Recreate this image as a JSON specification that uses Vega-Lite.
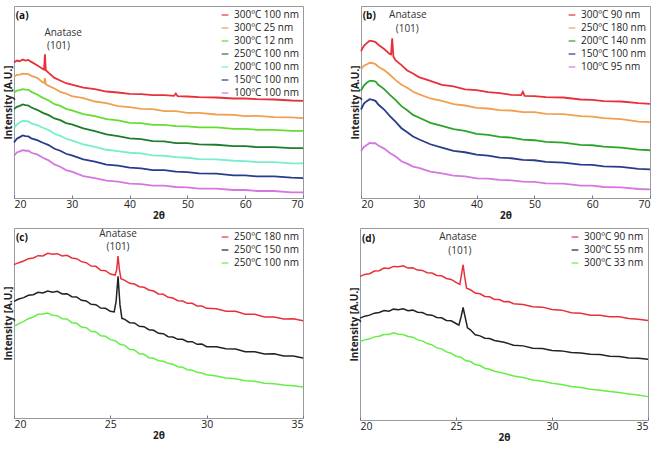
{
"$schema": "https://vega.github.io/schema/vega-lite/v6.json",
"padding": {"left": 2, "top": 5, "right": 0, "bottom": 0},
"background": "white",
"config": {
  "view": {"stroke": "#9a9a9a", "strokeWidth": 1},
  "font": "Open Sans",
  "axis": {"grid": false, "labelFont": "Open Sans", "titleFont": "Open Sans", "labelFontSize": 10.5, "titleFontSize": 10, "titleFontWeight": "bold", "labelColor": "#222", "titleColor": "#222", "tickColor": "#6a78a0", "tickSize": -3, "domain": false, "labelPadding": 4, "titlePadding": 1},
  "legend": {"orient": "top-right", "offset": 4, "padding": 0, "labelFont": "Open Sans", "labelFontSize": 10, "labelColor": "#222", "symbolType": "stroke", "symbolStrokeWidth": 1.5, "symbolSize": 45, "symbolOpacity": 0.8, "rowPadding": 3, "title": null},
  "text": {"font": "Open Sans", "fontSize": 10, "color": "#333"}
},
"datasets": {
"a": [
{"s":"300ºC 100 nm","x":20,"y":407},{"s":"300ºC 100 nm","x":20.5,"y":413},{"s":"300ºC 100 nm","x":21,"y":411},{"s":"300ºC 100 nm","x":21.5,"y":416},{"s":"300ºC 100 nm","x":22,"y":413},{"s":"300ºC 100 nm","x":22.5,"y":415},{"s":"300ºC 100 nm","x":23,"y":409},{"s":"300ºC 100 nm","x":24,"y":399},{"s":"300ºC 100 nm","x":25,"y":388},{"s":"300ºC 100 nm","x":25.2,"y":386},{"s":"300ºC 100 nm","x":25.35,"y":432},{"s":"300ºC 100 nm","x":25.5,"y":384},{"s":"300ºC 100 nm","x":26,"y":376},{"s":"300ºC 100 nm","x":27,"y":361},{"s":"300ºC 100 nm","x":28,"y":353},{"s":"300ºC 100 nm","x":29,"y":345},{"s":"300ºC 100 nm","x":30,"y":341},{"s":"300ºC 100 nm","x":32,"y":332},{"s":"300ºC 100 nm","x":34,"y":327},{"s":"300ºC 100 nm","x":36,"y":320},{"s":"300ºC 100 nm","x":38,"y":317},{"s":"300ºC 100 nm","x":40,"y":313},{"s":"300ºC 100 nm","x":42,"y":312},{"s":"300ºC 100 nm","x":44,"y":309},{"s":"300ºC 100 nm","x":46,"y":309},{"s":"300ºC 100 nm","x":47.7,"y":307},{"s":"300ºC 100 nm","x":48,"y":314},{"s":"300ºC 100 nm","x":48.3,"y":306},{"s":"300ºC 100 nm","x":50,"y":305},{"s":"300ºC 100 nm","x":52,"y":303},{"s":"300ºC 100 nm","x":55,"y":302},{"s":"300ºC 100 nm","x":58,"y":299},{"s":"300ºC 100 nm","x":60,"y":299},{"s":"300ºC 100 nm","x":62,"y":297},{"s":"300ºC 100 nm","x":65,"y":296},{"s":"300ºC 100 nm","x":68,"y":293},{"s":"300ºC 100 nm","x":70,"y":292},
{"s":"300ºC 25 nm","x":20,"y":364},{"s":"300ºC 25 nm","x":20.5,"y":370},{"s":"300ºC 25 nm","x":21,"y":371},{"s":"300ºC 25 nm","x":21.5,"y":374},{"s":"300ºC 25 nm","x":22,"y":373},{"s":"300ºC 25 nm","x":22.5,"y":372},{"s":"300ºC 25 nm","x":23,"y":367},{"s":"300ºC 25 nm","x":24,"y":361},{"s":"300ºC 25 nm","x":25,"y":347},{"s":"300ºC 25 nm","x":25.2,"y":346},{"s":"300ºC 25 nm","x":25.35,"y":360},{"s":"300ºC 25 nm","x":25.5,"y":342},{"s":"300ºC 25 nm","x":26,"y":337},{"s":"300ºC 25 nm","x":27,"y":329},{"s":"300ºC 25 nm","x":28,"y":319},{"s":"300ºC 25 nm","x":29,"y":314},{"s":"300ºC 25 nm","x":30,"y":306},{"s":"300ºC 25 nm","x":32,"y":300},{"s":"300ºC 25 nm","x":34,"y":290},{"s":"300ºC 25 nm","x":36,"y":285},{"s":"300ºC 25 nm","x":38,"y":276},{"s":"300ºC 25 nm","x":40,"y":273},{"s":"300ºC 25 nm","x":42,"y":268},{"s":"300ºC 25 nm","x":44,"y":267},{"s":"300ºC 25 nm","x":46,"y":261},{"s":"300ºC 25 nm","x":48,"y":261},{"s":"300ºC 25 nm","x":50,"y":256},{"s":"300ºC 25 nm","x":52,"y":256},{"s":"300ºC 25 nm","x":55,"y":251},{"s":"300ºC 25 nm","x":58,"y":250},{"s":"300ºC 25 nm","x":60,"y":246},{"s":"300ºC 25 nm","x":62,"y":247},{"s":"300ºC 25 nm","x":65,"y":243},{"s":"300ºC 25 nm","x":68,"y":242},{"s":"300ºC 25 nm","x":70,"y":240},
{"s":"300ºC 12 nm","x":20,"y":317},{"s":"300ºC 12 nm","x":20.5,"y":323},{"s":"300ºC 12 nm","x":21,"y":324},{"s":"300ºC 12 nm","x":21.5,"y":327},{"s":"300ºC 12 nm","x":22,"y":326},{"s":"300ºC 12 nm","x":22.5,"y":325},{"s":"300ºC 12 nm","x":23,"y":319},{"s":"300ºC 12 nm","x":24,"y":311},{"s":"300ºC 12 nm","x":25,"y":301},{"s":"300ºC 12 nm","x":26,"y":293},{"s":"300ºC 12 nm","x":27,"y":282},{"s":"300ºC 12 nm","x":28,"y":277},{"s":"300ºC 12 nm","x":29,"y":268},{"s":"300ºC 12 nm","x":30,"y":263},{"s":"300ºC 12 nm","x":32,"y":252},{"s":"300ºC 12 nm","x":34,"y":246},{"s":"300ºC 12 nm","x":36,"y":237},{"s":"300ºC 12 nm","x":38,"y":233},{"s":"300ºC 12 nm","x":40,"y":226},{"s":"300ºC 12 nm","x":42,"y":225},{"s":"300ºC 12 nm","x":44,"y":220},{"s":"300ºC 12 nm","x":46,"y":220},{"s":"300ºC 12 nm","x":48,"y":216},{"s":"300ºC 12 nm","x":50,"y":215},{"s":"300ºC 12 nm","x":52,"y":212},{"s":"300ºC 12 nm","x":55,"y":212},{"s":"300ºC 12 nm","x":58,"y":208},{"s":"300ºC 12 nm","x":60,"y":208},{"s":"300ºC 12 nm","x":62,"y":205},{"s":"300ºC 12 nm","x":65,"y":205},{"s":"300ºC 12 nm","x":68,"y":202},{"s":"300ºC 12 nm","x":70,"y":202},
{"s":"250ºC 100 nm","x":20,"y":267},{"s":"250ºC 100 nm","x":20.5,"y":274},{"s":"250ºC 100 nm","x":21,"y":277},{"s":"250ºC 100 nm","x":21.5,"y":281},{"s":"250ºC 100 nm","x":22,"y":279},{"s":"250ºC 100 nm","x":22.5,"y":278},{"s":"250ºC 100 nm","x":23,"y":272},{"s":"250ºC 100 nm","x":24,"y":265},{"s":"250ºC 100 nm","x":25,"y":256},{"s":"250ºC 100 nm","x":26,"y":249},{"s":"250ºC 100 nm","x":27,"y":239},{"s":"250ºC 100 nm","x":28,"y":234},{"s":"250ºC 100 nm","x":29,"y":225},{"s":"250ºC 100 nm","x":30,"y":221},{"s":"250ºC 100 nm","x":32,"y":209},{"s":"250ºC 100 nm","x":34,"y":201},{"s":"250ºC 100 nm","x":36,"y":191},{"s":"250ºC 100 nm","x":38,"y":186},{"s":"250ºC 100 nm","x":40,"y":179},{"s":"250ºC 100 nm","x":42,"y":177},{"s":"250ºC 100 nm","x":44,"y":171},{"s":"250ºC 100 nm","x":46,"y":170},{"s":"250ºC 100 nm","x":48,"y":165},{"s":"250ºC 100 nm","x":50,"y":165},{"s":"250ºC 100 nm","x":52,"y":161},{"s":"250ºC 100 nm","x":55,"y":160},{"s":"250ºC 100 nm","x":58,"y":156},{"s":"250ºC 100 nm","x":60,"y":156},{"s":"250ºC 100 nm","x":62,"y":153},{"s":"250ºC 100 nm","x":65,"y":153},{"s":"250ºC 100 nm","x":68,"y":150},{"s":"250ºC 100 nm","x":70,"y":150},
{"s":"200ºC 100 nm","x":20,"y":210},{"s":"200ºC 100 nm","x":20.5,"y":221},{"s":"200ºC 100 nm","x":21,"y":227},{"s":"200ºC 100 nm","x":21.5,"y":232},{"s":"200ºC 100 nm","x":22,"y":231},{"s":"200ºC 100 nm","x":22.5,"y":230},{"s":"200ºC 100 nm","x":23,"y":224},{"s":"200ºC 100 nm","x":24,"y":219},{"s":"200ºC 100 nm","x":25,"y":211},{"s":"200ºC 100 nm","x":26,"y":204},{"s":"200ºC 100 nm","x":27,"y":193},{"s":"200ºC 100 nm","x":28,"y":187},{"s":"200ºC 100 nm","x":29,"y":178},{"s":"200ºC 100 nm","x":30,"y":173},{"s":"200ºC 100 nm","x":32,"y":161},{"s":"200ºC 100 nm","x":34,"y":154},{"s":"200ºC 100 nm","x":36,"y":145},{"s":"200ºC 100 nm","x":38,"y":141},{"s":"200ºC 100 nm","x":40,"y":136},{"s":"200ºC 100 nm","x":42,"y":134},{"s":"200ºC 100 nm","x":44,"y":128},{"s":"200ºC 100 nm","x":46,"y":127},{"s":"200ºC 100 nm","x":48,"y":123},{"s":"200ºC 100 nm","x":50,"y":121},{"s":"200ºC 100 nm","x":52,"y":117},{"s":"200ºC 100 nm","x":55,"y":116},{"s":"200ºC 100 nm","x":58,"y":112},{"s":"200ºC 100 nm","x":60,"y":111},{"s":"200ºC 100 nm","x":62,"y":108},{"s":"200ºC 100 nm","x":65,"y":108},{"s":"200ºC 100 nm","x":68,"y":104},{"s":"200ºC 100 nm","x":70,"y":104},
{"s":"150ºC 100 nm","x":20,"y":167},{"s":"150ºC 100 nm","x":20.5,"y":178},{"s":"150ºC 100 nm","x":21,"y":183},{"s":"150ºC 100 nm","x":21.5,"y":188},{"s":"150ºC 100 nm","x":22,"y":186},{"s":"150ºC 100 nm","x":22.5,"y":185},{"s":"150ºC 100 nm","x":23,"y":179},{"s":"150ºC 100 nm","x":24,"y":174},{"s":"150ºC 100 nm","x":25,"y":166},{"s":"150ºC 100 nm","x":26,"y":159},{"s":"150ºC 100 nm","x":27,"y":148},{"s":"150ºC 100 nm","x":28,"y":142},{"s":"150ºC 100 nm","x":29,"y":133},{"s":"150ºC 100 nm","x":30,"y":128},{"s":"150ºC 100 nm","x":32,"y":116},{"s":"150ºC 100 nm","x":34,"y":109},{"s":"150ºC 100 nm","x":36,"y":100},{"s":"150ºC 100 nm","x":38,"y":97},{"s":"150ºC 100 nm","x":40,"y":91},{"s":"150ºC 100 nm","x":42,"y":89},{"s":"150ºC 100 nm","x":44,"y":84},{"s":"150ºC 100 nm","x":46,"y":84},{"s":"150ºC 100 nm","x":48,"y":79},{"s":"150ºC 100 nm","x":50,"y":78},{"s":"150ºC 100 nm","x":52,"y":74},{"s":"150ºC 100 nm","x":55,"y":73},{"s":"150ºC 100 nm","x":58,"y":68},{"s":"150ºC 100 nm","x":60,"y":68},{"s":"150ºC 100 nm","x":62,"y":65},{"s":"150ºC 100 nm","x":65,"y":65},{"s":"150ºC 100 nm","x":68,"y":61},{"s":"150ºC 100 nm","x":70,"y":60},
{"s":"100ºC 100 nm","x":20,"y":127},{"s":"100ºC 100 nm","x":20.5,"y":137},{"s":"100ºC 100 nm","x":21,"y":140},{"s":"100ºC 100 nm","x":21.5,"y":144},{"s":"100ºC 100 nm","x":22,"y":142},{"s":"100ºC 100 nm","x":22.5,"y":142},{"s":"100ºC 100 nm","x":23,"y":136},{"s":"100ºC 100 nm","x":24,"y":131},{"s":"100ºC 100 nm","x":25,"y":121},{"s":"100ºC 100 nm","x":26,"y":113},{"s":"100ºC 100 nm","x":27,"y":101},{"s":"100ºC 100 nm","x":28,"y":94},{"s":"100ºC 100 nm","x":29,"y":84},{"s":"100ºC 100 nm","x":30,"y":79},{"s":"100ºC 100 nm","x":32,"y":66},{"s":"100ºC 100 nm","x":34,"y":60},{"s":"100ºC 100 nm","x":36,"y":52},{"s":"100ºC 100 nm","x":38,"y":49},{"s":"100ºC 100 nm","x":40,"y":43},{"s":"100ºC 100 nm","x":42,"y":42},{"s":"100ºC 100 nm","x":44,"y":37},{"s":"100ºC 100 nm","x":46,"y":37},{"s":"100ºC 100 nm","x":48,"y":33},{"s":"100ºC 100 nm","x":50,"y":32},{"s":"100ºC 100 nm","x":52,"y":28},{"s":"100ºC 100 nm","x":55,"y":28},{"s":"100ºC 100 nm","x":58,"y":24},{"s":"100ºC 100 nm","x":60,"y":24},{"s":"100ºC 100 nm","x":62,"y":21},{"s":"100ºC 100 nm","x":65,"y":21},{"s":"100ºC 100 nm","x":68,"y":17},{"s":"100ºC 100 nm","x":70,"y":17}
],
"b": [
{"s":"300ºC 90 nm","x":20,"y":440},{"s":"300ºC 90 nm","x":20.5,"y":456},{"s":"300ºC 90 nm","x":21,"y":464},{"s":"300ºC 90 nm","x":21.5,"y":471},{"s":"300ºC 90 nm","x":22,"y":470},{"s":"300ºC 90 nm","x":22.5,"y":467},{"s":"300ºC 90 nm","x":23,"y":459},{"s":"300ºC 90 nm","x":24,"y":446},{"s":"300ºC 90 nm","x":25,"y":431},{"s":"300ºC 90 nm","x":25.2,"y":430},{"s":"300ºC 90 nm","x":25.4,"y":478},{"s":"300ºC 90 nm","x":25.6,"y":424},{"s":"300ºC 90 nm","x":26,"y":412},{"s":"300ºC 90 nm","x":27,"y":398},{"s":"300ºC 90 nm","x":28,"y":382},{"s":"300ºC 90 nm","x":29,"y":373},{"s":"300ºC 90 nm","x":30,"y":362},{"s":"300ºC 90 nm","x":32,"y":351},{"s":"300ºC 90 nm","x":34,"y":339},{"s":"300ºC 90 nm","x":36,"y":334},{"s":"300ºC 90 nm","x":38,"y":325},{"s":"300ºC 90 nm","x":40,"y":323},{"s":"300ºC 90 nm","x":42,"y":317},{"s":"300ºC 90 nm","x":44,"y":314},{"s":"300ºC 90 nm","x":46,"y":309},{"s":"300ºC 90 nm","x":47.7,"y":308},{"s":"300ºC 90 nm","x":48,"y":318},{"s":"300ºC 90 nm","x":48.3,"y":306},{"s":"300ºC 90 nm","x":50,"y":305},{"s":"300ºC 90 nm","x":52,"y":302},{"s":"300ºC 90 nm","x":55,"y":301},{"s":"300ºC 90 nm","x":58,"y":295},{"s":"300ºC 90 nm","x":60,"y":294},{"s":"300ºC 90 nm","x":62,"y":290},{"s":"300ºC 90 nm","x":65,"y":289},{"s":"300ºC 90 nm","x":68,"y":284},{"s":"300ºC 90 nm","x":70,"y":282},
{"s":"250ºC 180 nm","x":20,"y":385},{"s":"250ºC 180 nm","x":20.5,"y":396},{"s":"250ºC 180 nm","x":21,"y":400},{"s":"250ºC 180 nm","x":21.5,"y":405},{"s":"250ºC 180 nm","x":22,"y":404},{"s":"250ºC 180 nm","x":22.5,"y":401},{"s":"250ºC 180 nm","x":23,"y":393},{"s":"250ºC 180 nm","x":24,"y":383},{"s":"250ºC 180 nm","x":25,"y":369},{"s":"250ºC 180 nm","x":26,"y":353},{"s":"250ºC 180 nm","x":27,"y":339},{"s":"250ºC 180 nm","x":28,"y":330},{"s":"250ºC 180 nm","x":29,"y":318},{"s":"250ºC 180 nm","x":30,"y":311},{"s":"250ºC 180 nm","x":32,"y":298},{"s":"250ºC 180 nm","x":34,"y":291},{"s":"250ºC 180 nm","x":36,"y":281},{"s":"250ºC 180 nm","x":38,"y":277},{"s":"250ºC 180 nm","x":40,"y":270},{"s":"250ºC 180 nm","x":42,"y":268},{"s":"250ºC 180 nm","x":44,"y":263},{"s":"250ºC 180 nm","x":46,"y":262},{"s":"250ºC 180 nm","x":48,"y":257},{"s":"250ºC 180 nm","x":50,"y":257},{"s":"250ºC 180 nm","x":52,"y":252},{"s":"250ºC 180 nm","x":55,"y":251},{"s":"250ºC 180 nm","x":58,"y":245},{"s":"250ºC 180 nm","x":60,"y":244},{"s":"250ºC 180 nm","x":62,"y":239},{"s":"250ºC 180 nm","x":65,"y":236},{"s":"250ºC 180 nm","x":68,"y":229},{"s":"250ºC 180 nm","x":70,"y":227},
{"s":"200ºC 140 nm","x":20,"y":322},{"s":"200ºC 140 nm","x":20.5,"y":337},{"s":"200ºC 140 nm","x":21,"y":345},{"s":"200ºC 140 nm","x":21.5,"y":351},{"s":"200ºC 140 nm","x":22,"y":351},{"s":"200ºC 140 nm","x":22.5,"y":349},{"s":"200ºC 140 nm","x":23,"y":339},{"s":"200ºC 140 nm","x":24,"y":326},{"s":"200ºC 140 nm","x":25,"y":309},{"s":"200ºC 140 nm","x":26,"y":293},{"s":"200ºC 140 nm","x":27,"y":275},{"s":"200ºC 140 nm","x":28,"y":263},{"s":"200ºC 140 nm","x":29,"y":249},{"s":"200ºC 140 nm","x":30,"y":241},{"s":"200ºC 140 nm","x":32,"y":225},{"s":"200ºC 140 nm","x":34,"y":216},{"s":"200ºC 140 nm","x":36,"y":206},{"s":"200ºC 140 nm","x":38,"y":201},{"s":"200ºC 140 nm","x":40,"y":192},{"s":"200ºC 140 nm","x":42,"y":189},{"s":"200ºC 140 nm","x":44,"y":183},{"s":"200ºC 140 nm","x":46,"y":181},{"s":"200ºC 140 nm","x":48,"y":175},{"s":"200ºC 140 nm","x":50,"y":173},{"s":"200ºC 140 nm","x":52,"y":168},{"s":"200ºC 140 nm","x":55,"y":166},{"s":"200ºC 140 nm","x":58,"y":159},{"s":"200ºC 140 nm","x":60,"y":158},{"s":"200ºC 140 nm","x":62,"y":154},{"s":"200ºC 140 nm","x":65,"y":151},{"s":"200ºC 140 nm","x":68,"y":145},{"s":"200ºC 140 nm","x":70,"y":143},
{"s":"150ºC 100 nm","x":20,"y":265},{"s":"150ºC 100 nm","x":20.5,"y":283},{"s":"150ºC 100 nm","x":21,"y":290},{"s":"150ºC 100 nm","x":21.5,"y":296},{"s":"150ºC 100 nm","x":22,"y":294},{"s":"150ºC 100 nm","x":22.5,"y":291},{"s":"150ºC 100 nm","x":23,"y":280},{"s":"150ºC 100 nm","x":24,"y":265},{"s":"150ºC 100 nm","x":25,"y":245},{"s":"150ºC 100 nm","x":26,"y":228},{"s":"150ºC 100 nm","x":27,"y":209},{"s":"150ºC 100 nm","x":28,"y":197},{"s":"150ºC 100 nm","x":29,"y":184},{"s":"150ºC 100 nm","x":30,"y":176},{"s":"150ºC 100 nm","x":32,"y":161},{"s":"150ºC 100 nm","x":34,"y":151},{"s":"150ºC 100 nm","x":36,"y":141},{"s":"150ºC 100 nm","x":38,"y":137},{"s":"150ºC 100 nm","x":40,"y":130},{"s":"150ºC 100 nm","x":42,"y":127},{"s":"150ºC 100 nm","x":44,"y":121},{"s":"150ºC 100 nm","x":46,"y":119},{"s":"150ºC 100 nm","x":48,"y":114},{"s":"150ºC 100 nm","x":50,"y":113},{"s":"150ºC 100 nm","x":52,"y":108},{"s":"150ºC 100 nm","x":55,"y":106},{"s":"150ºC 100 nm","x":58,"y":100},{"s":"150ºC 100 nm","x":60,"y":99},{"s":"150ºC 100 nm","x":62,"y":95},{"s":"150ºC 100 nm","x":65,"y":93},{"s":"150ºC 100 nm","x":68,"y":87},{"s":"150ºC 100 nm","x":70,"y":86},
{"s":"100ºC 95 nm","x":20,"y":140},{"s":"100ºC 95 nm","x":20.5,"y":153},{"s":"100ºC 95 nm","x":21,"y":159},{"s":"100ºC 95 nm","x":21.5,"y":165},{"s":"100ºC 95 nm","x":22,"y":164},{"s":"100ºC 95 nm","x":22.5,"y":164},{"s":"100ºC 95 nm","x":23,"y":157},{"s":"100ºC 95 nm","x":24,"y":148},{"s":"100ºC 95 nm","x":25,"y":135},{"s":"100ºC 95 nm","x":26,"y":124},{"s":"100ºC 95 nm","x":27,"y":110},{"s":"100ºC 95 nm","x":28,"y":103},{"s":"100ºC 95 nm","x":29,"y":94},{"s":"100ºC 95 nm","x":30,"y":90},{"s":"100ºC 95 nm","x":32,"y":79},{"s":"100ºC 95 nm","x":34,"y":74},{"s":"100ºC 95 nm","x":36,"y":67},{"s":"100ºC 95 nm","x":38,"y":65},{"s":"100ºC 95 nm","x":40,"y":59},{"s":"100ºC 95 nm","x":42,"y":58},{"s":"100ºC 95 nm","x":44,"y":54},{"s":"100ºC 95 nm","x":46,"y":53},{"s":"100ºC 95 nm","x":48,"y":49},{"s":"100ºC 95 nm","x":50,"y":48},{"s":"100ºC 95 nm","x":52,"y":44},{"s":"100ºC 95 nm","x":55,"y":43},{"s":"100ºC 95 nm","x":58,"y":37},{"s":"100ºC 95 nm","x":60,"y":37},{"s":"100ºC 95 nm","x":62,"y":33},{"s":"100ºC 95 nm","x":65,"y":32},{"s":"100ºC 95 nm","x":68,"y":27},{"s":"100ºC 95 nm","x":70,"y":26}
],
"c": [
{"s":"250ºC 180 nm","x":20,"y":460},{"s":"250ºC 180 nm","x":20.25,"y":466},{"s":"250ºC 180 nm","x":20.5,"y":471},{"s":"250ºC 180 nm","x":20.75,"y":478},{"s":"250ºC 180 nm","x":21,"y":480},{"s":"250ºC 180 nm","x":21.25,"y":487},{"s":"250ºC 180 nm","x":21.5,"y":486},{"s":"250ºC 180 nm","x":21.75,"y":494},{"s":"250ºC 180 nm","x":22,"y":491},{"s":"250ºC 180 nm","x":22.25,"y":493},{"s":"250ºC 180 nm","x":22.5,"y":486},{"s":"250ºC 180 nm","x":22.75,"y":488},{"s":"250ºC 180 nm","x":23,"y":480},{"s":"250ºC 180 nm","x":23.25,"y":478},{"s":"250ºC 180 nm","x":23.5,"y":469},{"s":"250ºC 180 nm","x":23.75,"y":466},{"s":"250ºC 180 nm","x":24,"y":456},{"s":"250ºC 180 nm","x":24.25,"y":455},{"s":"250ºC 180 nm","x":24.5,"y":443},{"s":"250ºC 180 nm","x":24.75,"y":442},{"s":"250ºC 180 nm","x":25,"y":432},{"s":"250ºC 180 nm","x":25.25,"y":429},{"s":"250ºC 180 nm","x":25.33,"y":445},{"s":"250ºC 180 nm","x":25.4,"y":486},{"s":"250ºC 180 nm","x":25.47,"y":446},{"s":"250ºC 180 nm","x":25.55,"y":418},{"s":"250ºC 180 nm","x":25.75,"y":413},{"s":"250ºC 180 nm","x":26,"y":404},{"s":"250ºC 180 nm","x":26.25,"y":402},{"s":"250ºC 180 nm","x":26.5,"y":394},{"s":"250ºC 180 nm","x":26.75,"y":392},{"s":"250ºC 180 nm","x":27,"y":384},{"s":"250ºC 180 nm","x":27.25,"y":381},{"s":"250ºC 180 nm","x":27.5,"y":372},{"s":"250ºC 180 nm","x":27.75,"y":371},{"s":"250ºC 180 nm","x":28,"y":362},{"s":"250ºC 180 nm","x":28.25,"y":360},{"s":"250ºC 180 nm","x":28.5,"y":352},{"s":"250ºC 180 nm","x":28.75,"y":351},{"s":"250ºC 180 nm","x":29,"y":344},{"s":"250ºC 180 nm","x":29.25,"y":344},{"s":"250ºC 180 nm","x":29.5,"y":336},{"s":"250ºC 180 nm","x":29.75,"y":336},{"s":"250ºC 180 nm","x":30,"y":329},{"s":"250ºC 180 nm","x":30.5,"y":328},{"s":"250ºC 180 nm","x":31,"y":320},{"s":"250ºC 180 nm","x":31.5,"y":320},{"s":"250ºC 180 nm","x":32,"y":311},{"s":"250ºC 180 nm","x":32.5,"y":311},{"s":"250ºC 180 nm","x":33,"y":303},{"s":"250ºC 180 nm","x":33.5,"y":303},{"s":"250ºC 180 nm","x":34,"y":297},{"s":"250ºC 180 nm","x":34.5,"y":298},{"s":"250ºC 180 nm","x":35,"y":292},
{"s":"250ºC 150 nm","x":20,"y":350},{"s":"250ºC 150 nm","x":20.25,"y":357},{"s":"250ºC 150 nm","x":20.5,"y":361},{"s":"250ºC 150 nm","x":20.75,"y":368},{"s":"250ºC 150 nm","x":21,"y":370},{"s":"250ºC 150 nm","x":21.25,"y":377},{"s":"250ºC 150 nm","x":21.5,"y":375},{"s":"250ºC 150 nm","x":21.75,"y":381},{"s":"250ºC 150 nm","x":22,"y":377},{"s":"250ºC 150 nm","x":22.25,"y":380},{"s":"250ºC 150 nm","x":22.5,"y":372},{"s":"250ºC 150 nm","x":22.75,"y":373},{"s":"250ºC 150 nm","x":23,"y":364},{"s":"250ºC 150 nm","x":23.25,"y":363},{"s":"250ºC 150 nm","x":23.5,"y":353},{"s":"250ºC 150 nm","x":23.75,"y":351},{"s":"250ºC 150 nm","x":24,"y":341},{"s":"250ºC 150 nm","x":24.25,"y":340},{"s":"250ºC 150 nm","x":24.5,"y":330},{"s":"250ºC 150 nm","x":24.75,"y":329},{"s":"250ºC 150 nm","x":25,"y":320},{"s":"250ºC 150 nm","x":25.2,"y":318},{"s":"250ºC 150 nm","x":25.3,"y":350},{"s":"250ºC 150 nm","x":25.4,"y":425},{"s":"250ºC 150 nm","x":25.5,"y":340},{"s":"250ºC 150 nm","x":25.6,"y":299},{"s":"250ºC 150 nm","x":25.75,"y":296},{"s":"250ºC 150 nm","x":26,"y":286},{"s":"250ºC 150 nm","x":26.25,"y":285},{"s":"250ºC 150 nm","x":26.5,"y":275},{"s":"250ºC 150 nm","x":26.75,"y":274},{"s":"250ºC 150 nm","x":27,"y":265},{"s":"250ºC 150 nm","x":27.25,"y":263},{"s":"250ºC 150 nm","x":27.5,"y":254},{"s":"250ºC 150 nm","x":27.75,"y":253},{"s":"250ºC 150 nm","x":28,"y":244},{"s":"250ºC 150 nm","x":28.25,"y":243},{"s":"250ºC 150 nm","x":28.5,"y":236},{"s":"250ºC 150 nm","x":28.75,"y":236},{"s":"250ºC 150 nm","x":29,"y":229},{"s":"250ºC 150 nm","x":29.25,"y":229},{"s":"250ºC 150 nm","x":29.5,"y":221},{"s":"250ºC 150 nm","x":29.75,"y":222},{"s":"250ºC 150 nm","x":30,"y":214},{"s":"250ºC 150 nm","x":30.5,"y":214},{"s":"250ºC 150 nm","x":31,"y":208},{"s":"250ºC 150 nm","x":31.5,"y":207},{"s":"250ºC 150 nm","x":32,"y":199},{"s":"250ºC 150 nm","x":32.5,"y":199},{"s":"250ºC 150 nm","x":33,"y":192},{"s":"250ºC 150 nm","x":33.5,"y":193},{"s":"250ºC 150 nm","x":34,"y":186},{"s":"250ºC 150 nm","x":34.5,"y":186},{"s":"250ºC 150 nm","x":35,"y":180},
{"s":"250ºC 100 nm","x":20,"y":275},{"s":"250ºC 100 nm","x":20.25,"y":283},{"s":"250ºC 100 nm","x":20.5,"y":290},{"s":"250ºC 100 nm","x":20.75,"y":298},{"s":"250ºC 100 nm","x":21,"y":303},{"s":"250ºC 100 nm","x":21.25,"y":311},{"s":"250ºC 100 nm","x":21.5,"y":312},{"s":"250ºC 100 nm","x":21.75,"y":315},{"s":"250ºC 100 nm","x":22,"y":308},{"s":"250ºC 100 nm","x":22.25,"y":307},{"s":"250ºC 100 nm","x":22.5,"y":298},{"s":"250ºC 100 nm","x":22.75,"y":297},{"s":"250ºC 100 nm","x":23,"y":286},{"s":"250ºC 100 nm","x":23.25,"y":284},{"s":"250ºC 100 nm","x":23.5,"y":273},{"s":"250ºC 100 nm","x":23.75,"y":271},{"s":"250ºC 100 nm","x":24,"y":260},{"s":"250ºC 100 nm","x":24.25,"y":258},{"s":"250ºC 100 nm","x":24.5,"y":247},{"s":"250ºC 100 nm","x":24.75,"y":245},{"s":"250ºC 100 nm","x":25,"y":235},{"s":"250ºC 100 nm","x":25.25,"y":232},{"s":"250ºC 100 nm","x":25.5,"y":221},{"s":"250ºC 100 nm","x":25.75,"y":218},{"s":"250ºC 100 nm","x":26,"y":206},{"s":"250ºC 100 nm","x":26.25,"y":204},{"s":"250ºC 100 nm","x":26.5,"y":193},{"s":"250ºC 100 nm","x":26.75,"y":191},{"s":"250ºC 100 nm","x":27,"y":181},{"s":"250ºC 100 nm","x":27.25,"y":179},{"s":"250ºC 100 nm","x":27.5,"y":172},{"s":"250ºC 100 nm","x":27.75,"y":170},{"s":"250ºC 100 nm","x":28,"y":164},{"s":"250ºC 100 nm","x":28.25,"y":161},{"s":"250ºC 100 nm","x":28.5,"y":154},{"s":"250ºC 100 nm","x":28.75,"y":152},{"s":"250ºC 100 nm","x":29,"y":145},{"s":"250ºC 100 nm","x":29.25,"y":143},{"s":"250ºC 100 nm","x":29.5,"y":137},{"s":"250ºC 100 nm","x":29.75,"y":135},{"s":"250ºC 100 nm","x":30,"y":130},{"s":"250ºC 100 nm","x":30.5,"y":126},{"s":"250ºC 100 nm","x":31,"y":120},{"s":"250ºC 100 nm","x":31.5,"y":118},{"s":"250ºC 100 nm","x":32,"y":112},{"s":"250ºC 100 nm","x":32.5,"y":110},{"s":"250ºC 100 nm","x":33,"y":104},{"s":"250ºC 100 nm","x":33.5,"y":103},{"s":"250ºC 100 nm","x":34,"y":99},{"s":"250ºC 100 nm","x":34.5,"y":97},{"s":"250ºC 100 nm","x":35,"y":93}
],
"d": [
{"s":"300ºC 90 nm","x":20,"y":430},{"s":"300ºC 90 nm","x":20.25,"y":436},{"s":"300ºC 90 nm","x":20.5,"y":438},{"s":"300ºC 90 nm","x":20.75,"y":446},{"s":"300ºC 90 nm","x":21,"y":447},{"s":"300ºC 90 nm","x":21.25,"y":455},{"s":"300ºC 90 nm","x":21.5,"y":454},{"s":"300ºC 90 nm","x":21.75,"y":460},{"s":"300ºC 90 nm","x":22,"y":459},{"s":"300ºC 90 nm","x":22.25,"y":462},{"s":"300ºC 90 nm","x":22.5,"y":455},{"s":"300ºC 90 nm","x":22.75,"y":456},{"s":"300ºC 90 nm","x":23,"y":449},{"s":"300ºC 90 nm","x":23.25,"y":448},{"s":"300ºC 90 nm","x":23.5,"y":441},{"s":"300ºC 90 nm","x":23.75,"y":440},{"s":"300ºC 90 nm","x":24,"y":433},{"s":"300ºC 90 nm","x":24.25,"y":432},{"s":"300ºC 90 nm","x":24.5,"y":424},{"s":"300ºC 90 nm","x":24.75,"y":421},{"s":"300ºC 90 nm","x":25,"y":412},{"s":"300ºC 90 nm","x":25.2,"y":406},{"s":"300ºC 90 nm","x":25.3,"y":440},{"s":"300ºC 90 nm","x":25.37,"y":465},{"s":"300ºC 90 nm","x":25.45,"y":430},{"s":"300ºC 90 nm","x":25.55,"y":395},{"s":"300ºC 90 nm","x":25.75,"y":390},{"s":"300ºC 90 nm","x":26,"y":380},{"s":"300ºC 90 nm","x":26.25,"y":378},{"s":"300ºC 90 nm","x":26.5,"y":370},{"s":"300ºC 90 nm","x":26.75,"y":369},{"s":"300ºC 90 nm","x":27,"y":361},{"s":"300ºC 90 nm","x":27.25,"y":361},{"s":"300ºC 90 nm","x":27.5,"y":354},{"s":"300ºC 90 nm","x":27.75,"y":355},{"s":"300ºC 90 nm","x":28,"y":348},{"s":"300ºC 90 nm","x":28.5,"y":346},{"s":"300ºC 90 nm","x":29,"y":339},{"s":"300ºC 90 nm","x":29.5,"y":338},{"s":"300ºC 90 nm","x":30,"y":331},{"s":"300ºC 90 nm","x":30.5,"y":329},{"s":"300ºC 90 nm","x":31,"y":321},{"s":"300ºC 90 nm","x":31.5,"y":320},{"s":"300ºC 90 nm","x":32,"y":314},{"s":"300ºC 90 nm","x":32.5,"y":314},{"s":"300ºC 90 nm","x":33,"y":309},{"s":"300ºC 90 nm","x":33.5,"y":309},{"s":"300ºC 90 nm","x":34,"y":304},{"s":"300ºC 90 nm","x":34.5,"y":302},{"s":"300ºC 90 nm","x":35,"y":298},
{"s":"300ºC 55 nm","x":20,"y":305},{"s":"300ºC 55 nm","x":20.25,"y":311},{"s":"300ºC 55 nm","x":20.5,"y":314},{"s":"300ºC 55 nm","x":20.75,"y":320},{"s":"300ºC 55 nm","x":21,"y":322},{"s":"300ºC 55 nm","x":21.25,"y":328},{"s":"300ºC 55 nm","x":21.5,"y":326},{"s":"300ºC 55 nm","x":21.75,"y":332},{"s":"300ºC 55 nm","x":22,"y":330},{"s":"300ºC 55 nm","x":22.25,"y":333},{"s":"300ºC 55 nm","x":22.5,"y":327},{"s":"300ºC 55 nm","x":22.75,"y":329},{"s":"300ºC 55 nm","x":23,"y":323},{"s":"300ºC 55 nm","x":23.25,"y":322},{"s":"300ºC 55 nm","x":23.5,"y":315},{"s":"300ºC 55 nm","x":23.75,"y":314},{"s":"300ºC 55 nm","x":24,"y":307},{"s":"300ºC 55 nm","x":24.25,"y":306},{"s":"300ºC 55 nm","x":24.5,"y":298},{"s":"300ºC 55 nm","x":24.75,"y":297},{"s":"300ºC 55 nm","x":25,"y":289},{"s":"300ºC 55 nm","x":25.15,"y":284},{"s":"300ºC 55 nm","x":25.27,"y":310},{"s":"300ºC 55 nm","x":25.37,"y":337},{"s":"300ºC 55 nm","x":25.47,"y":310},{"s":"300ºC 55 nm","x":25.6,"y":276},{"s":"300ºC 55 nm","x":25.75,"y":270},{"s":"300ºC 55 nm","x":26,"y":255},{"s":"300ºC 55 nm","x":26.25,"y":252},{"s":"300ºC 55 nm","x":26.5,"y":245},{"s":"300ºC 55 nm","x":26.75,"y":244},{"s":"300ºC 55 nm","x":27,"y":238},{"s":"300ºC 55 nm","x":27.5,"y":233},{"s":"300ºC 55 nm","x":28,"y":224},{"s":"300ºC 55 nm","x":28.5,"y":222},{"s":"300ºC 55 nm","x":29,"y":215},{"s":"300ºC 55 nm","x":29.5,"y":214},{"s":"300ºC 55 nm","x":30,"y":208},{"s":"300ºC 55 nm","x":30.5,"y":207},{"s":"300ºC 55 nm","x":31,"y":202},{"s":"300ºC 55 nm","x":31.5,"y":201},{"s":"300ºC 55 nm","x":32,"y":197},{"s":"300ºC 55 nm","x":32.5,"y":196},{"s":"300ºC 55 nm","x":33,"y":191},{"s":"300ºC 55 nm","x":33.5,"y":190},{"s":"300ºC 55 nm","x":34,"y":186},{"s":"300ºC 55 nm","x":34.5,"y":185},{"s":"300ºC 55 nm","x":35,"y":182},
{"s":"300ºC 33 nm","x":20,"y":235},{"s":"300ºC 33 nm","x":20.25,"y":240},{"s":"300ºC 33 nm","x":20.5,"y":243},{"s":"300ºC 33 nm","x":20.75,"y":249},{"s":"300ºC 33 nm","x":21,"y":251},{"s":"300ºC 33 nm","x":21.25,"y":256},{"s":"300ºC 33 nm","x":21.5,"y":256},{"s":"300ºC 33 nm","x":21.75,"y":261},{"s":"300ºC 33 nm","x":22,"y":257},{"s":"300ºC 33 nm","x":22.25,"y":256},{"s":"300ºC 33 nm","x":22.5,"y":250},{"s":"300ºC 33 nm","x":22.75,"y":248},{"s":"300ºC 33 nm","x":23,"y":240},{"s":"300ºC 33 nm","x":23.25,"y":237},{"s":"300ºC 33 nm","x":23.5,"y":229},{"s":"300ºC 33 nm","x":23.75,"y":225},{"s":"300ºC 33 nm","x":24,"y":216},{"s":"300ºC 33 nm","x":24.25,"y":213},{"s":"300ºC 33 nm","x":24.5,"y":204},{"s":"300ºC 33 nm","x":24.75,"y":200},{"s":"300ºC 33 nm","x":25,"y":191},{"s":"300ºC 33 nm","x":25.25,"y":188},{"s":"300ºC 33 nm","x":25.5,"y":178},{"s":"300ºC 33 nm","x":25.75,"y":175},{"s":"300ºC 33 nm","x":26,"y":166},{"s":"300ºC 33 nm","x":26.25,"y":163},{"s":"300ºC 33 nm","x":26.5,"y":155},{"s":"300ºC 33 nm","x":26.75,"y":152},{"s":"300ºC 33 nm","x":27,"y":146},{"s":"300ºC 33 nm","x":27.5,"y":140},{"s":"300ºC 33 nm","x":28,"y":132},{"s":"300ºC 33 nm","x":28.5,"y":127},{"s":"300ºC 33 nm","x":29,"y":120},{"s":"300ºC 33 nm","x":29.5,"y":116},{"s":"300ºC 33 nm","x":30,"y":110},{"s":"300ºC 33 nm","x":30.5,"y":106},{"s":"300ºC 33 nm","x":31,"y":100},{"s":"300ºC 33 nm","x":31.5,"y":97},{"s":"300ºC 33 nm","x":32,"y":92},{"s":"300ºC 33 nm","x":32.5,"y":89},{"s":"300ºC 33 nm","x":33,"y":85},{"s":"300ºC 33 nm","x":33.5,"y":82},{"s":"300ºC 33 nm","x":34,"y":78},{"s":"300ºC 33 nm","x":34.5,"y":75},{"s":"300ºC 33 nm","x":35,"y":70}
]
},
"vconcat": [
{"hconcat": [
  {"width": 289, "height": 192,
   "layer": [
    {"data": {"name": "a"}, "mark": {"type": "line", "strokeWidth": 1.8},
     "encoding": {
      "x": {"field": "x", "type": "quantitative", "scale": {"domain": [20, 70], "nice": false}, "axis": {"title": "2θ", "values": [20, 30, 40, 50, 60, 70]}},
      "y": {"field": "y", "type": "quantitative", "scale": {"domain": [0, 577], "nice": false, "zero": false}, "axis": {"title": "Intensity [A.U.]", "labels": false, "ticks": false}},
      "color": {"field": "s", "type": "nominal", "scale": {"domain": ["300ºC 100 nm", "300ºC 25 nm", "300ºC 12 nm", "250ºC 100 nm", "200ºC 100 nm", "150ºC 100 nm", "100ºC 100 nm"], "range": ["#e8303a", "#f0a050", "#66dd33", "#1e7d2a", "#77eecc", "#283c8c", "#d676e0"]}, "legend": {}}
     }},
    {"data": {"values": [{"x": 28.5, "y": 497, "t": "Anatase"}, {"x": 27.7, "y": 457, "t": "(101)"}]}, "mark": {"type": "text"},
     "encoding": {"x": {"field": "x", "type": "quantitative"}, "y": {"field": "y", "type": "quantitative"}, "text": {"field": "t"}}},
    {"data": {"values": [{"x": 20.3, "y": 547, "t": "(a)"}]}, "mark": {"type": "text", "align": "left", "fontWeight": "bold", "color": "#111"},
     "encoding": {"x": {"field": "x", "type": "quantitative"}, "y": {"field": "y", "type": "quantitative"}, "text": {"field": "t"}}}
   ]},
  {"width": 289, "height": 192,
   "layer": [
    {"data": {"name": "b"}, "mark": {"type": "line", "strokeWidth": 1.8},
     "encoding": {
      "x": {"field": "x", "type": "quantitative", "scale": {"domain": [20, 70], "nice": false}, "axis": {"title": "2θ", "values": [20, 30, 40, 50, 60, 70]}},
      "y": {"field": "y", "type": "quantitative", "scale": {"domain": [0, 575], "nice": false, "zero": false}, "axis": {"title": "Intensity [A.U.]", "labels": false, "ticks": false}},
      "color": {"field": "s", "type": "nominal", "scale": {"domain": ["300ºC 90 nm", "250ºC 180 nm", "200ºC 140 nm", "150ºC 100 nm", "100ºC 95 nm"], "range": ["#e8303a", "#f0a050", "#2aa52a", "#283c8c", "#d676e0"]}, "legend": {}}
     }},
    {"data": {"values": [{"x": 28.1, "y": 548, "t": "Anatase"}, {"x": 28.0, "y": 505, "t": "(101)"}]}, "mark": {"type": "text"},
     "encoding": {"x": {"field": "x", "type": "quantitative"}, "y": {"field": "y", "type": "quantitative"}, "text": {"field": "t"}}},
    {"data": {"values": [{"x": 20.3, "y": 545, "t": "(b)"}]}, "mark": {"type": "text", "align": "left", "fontWeight": "bold", "color": "#111"},
     "encoding": {"x": {"field": "x", "type": "quantitative"}, "y": {"field": "y", "type": "quantitative"}, "text": {"field": "t"}}}
   ]}
 ],
 "spacing": 41,
 "resolve": {"scale": {"x": "independent", "y": "independent", "color": "independent"}, "legend": {"color": "independent"}}
},
{"hconcat": [
  {"width": 289, "height": 190,
   "layer": [
    {"data": {"name": "c"}, "mark": {"type": "line", "strokeWidth": 1.5},
     "encoding": {
      "x": {"field": "x", "type": "quantitative", "scale": {"domain": [20, 35], "nice": false}, "axis": {"title": "2θ", "values": [20, 25, 30, 35]}},
      "y": {"field": "y", "type": "quantitative", "scale": {"domain": [0, 570], "nice": false, "zero": false}, "axis": {"title": "Intensity [A.U.]", "labels": false, "ticks": false}},
      "color": {"field": "s", "type": "nominal", "scale": {"domain": ["250ºC 180 nm", "250ºC 150 nm", "250ºC 100 nm"], "range": ["#e8303a", "#222222", "#66ee44"]}, "legend": {}}
     }},
    {"data": {"values": [{"x": 25.4, "y": 553, "t": "Anatase"}, {"x": 25.4, "y": 513, "t": "(101)"}]}, "mark": {"type": "text"},
     "encoding": {"x": {"field": "x", "type": "quantitative"}, "y": {"field": "y", "type": "quantitative"}, "text": {"field": "t"}}},
    {"data": {"values": [{"x": 20.1, "y": 540, "t": "(c)"}]}, "mark": {"type": "text", "align": "left", "fontWeight": "bold", "color": "#111"},
     "encoding": {"x": {"field": "x", "type": "quantitative"}, "y": {"field": "y", "type": "quantitative"}, "text": {"field": "t"}}}
   ]},
  {"width": 288, "height": 192,
   "layer": [
    {"data": {"name": "d"}, "mark": {"type": "line", "strokeWidth": 1.5},
     "encoding": {
      "x": {"field": "x", "type": "quantitative", "scale": {"domain": [20, 35], "nice": false}, "axis": {"title": "2θ", "values": [20, 25, 30, 35]}},
      "y": {"field": "y", "type": "quantitative", "scale": {"domain": [0, 575], "nice": false, "zero": false}, "axis": {"title": "Intensity [A.U.]", "labels": false, "ticks": false}},
      "color": {"field": "s", "type": "nominal", "scale": {"domain": ["300ºC 90 nm", "300ºC 55 nm", "300ºC 33 nm"], "range": ["#e8303a", "#222222", "#66ee44"]}, "legend": {}}
     }},
    {"data": {"values": [{"x": 25.1, "y": 548, "t": "Anatase"}, {"x": 25.2, "y": 505, "t": "(101)"}]}, "mark": {"type": "text"},
     "encoding": {"x": {"field": "x", "type": "quantitative"}, "y": {"field": "y", "type": "quantitative"}, "text": {"field": "t"}}},
    {"data": {"values": [{"x": 20.1, "y": 542, "t": "(d)"}]}, "mark": {"type": "text", "align": "left", "fontWeight": "bold", "color": "#111"},
     "encoding": {"x": {"field": "x", "type": "quantitative"}, "y": {"field": "y", "type": "quantitative"}, "text": {"field": "t"}}}
   ]}
 ],
 "spacing": 41,
 "resolve": {"scale": {"x": "independent", "y": "independent", "color": "independent"}, "legend": {"color": "independent"}}
}
],
"spacing": 6,
"resolve": {"scale": {"x": "independent", "y": "independent", "color": "independent"}, "legend": {"color": "independent"}}
}
